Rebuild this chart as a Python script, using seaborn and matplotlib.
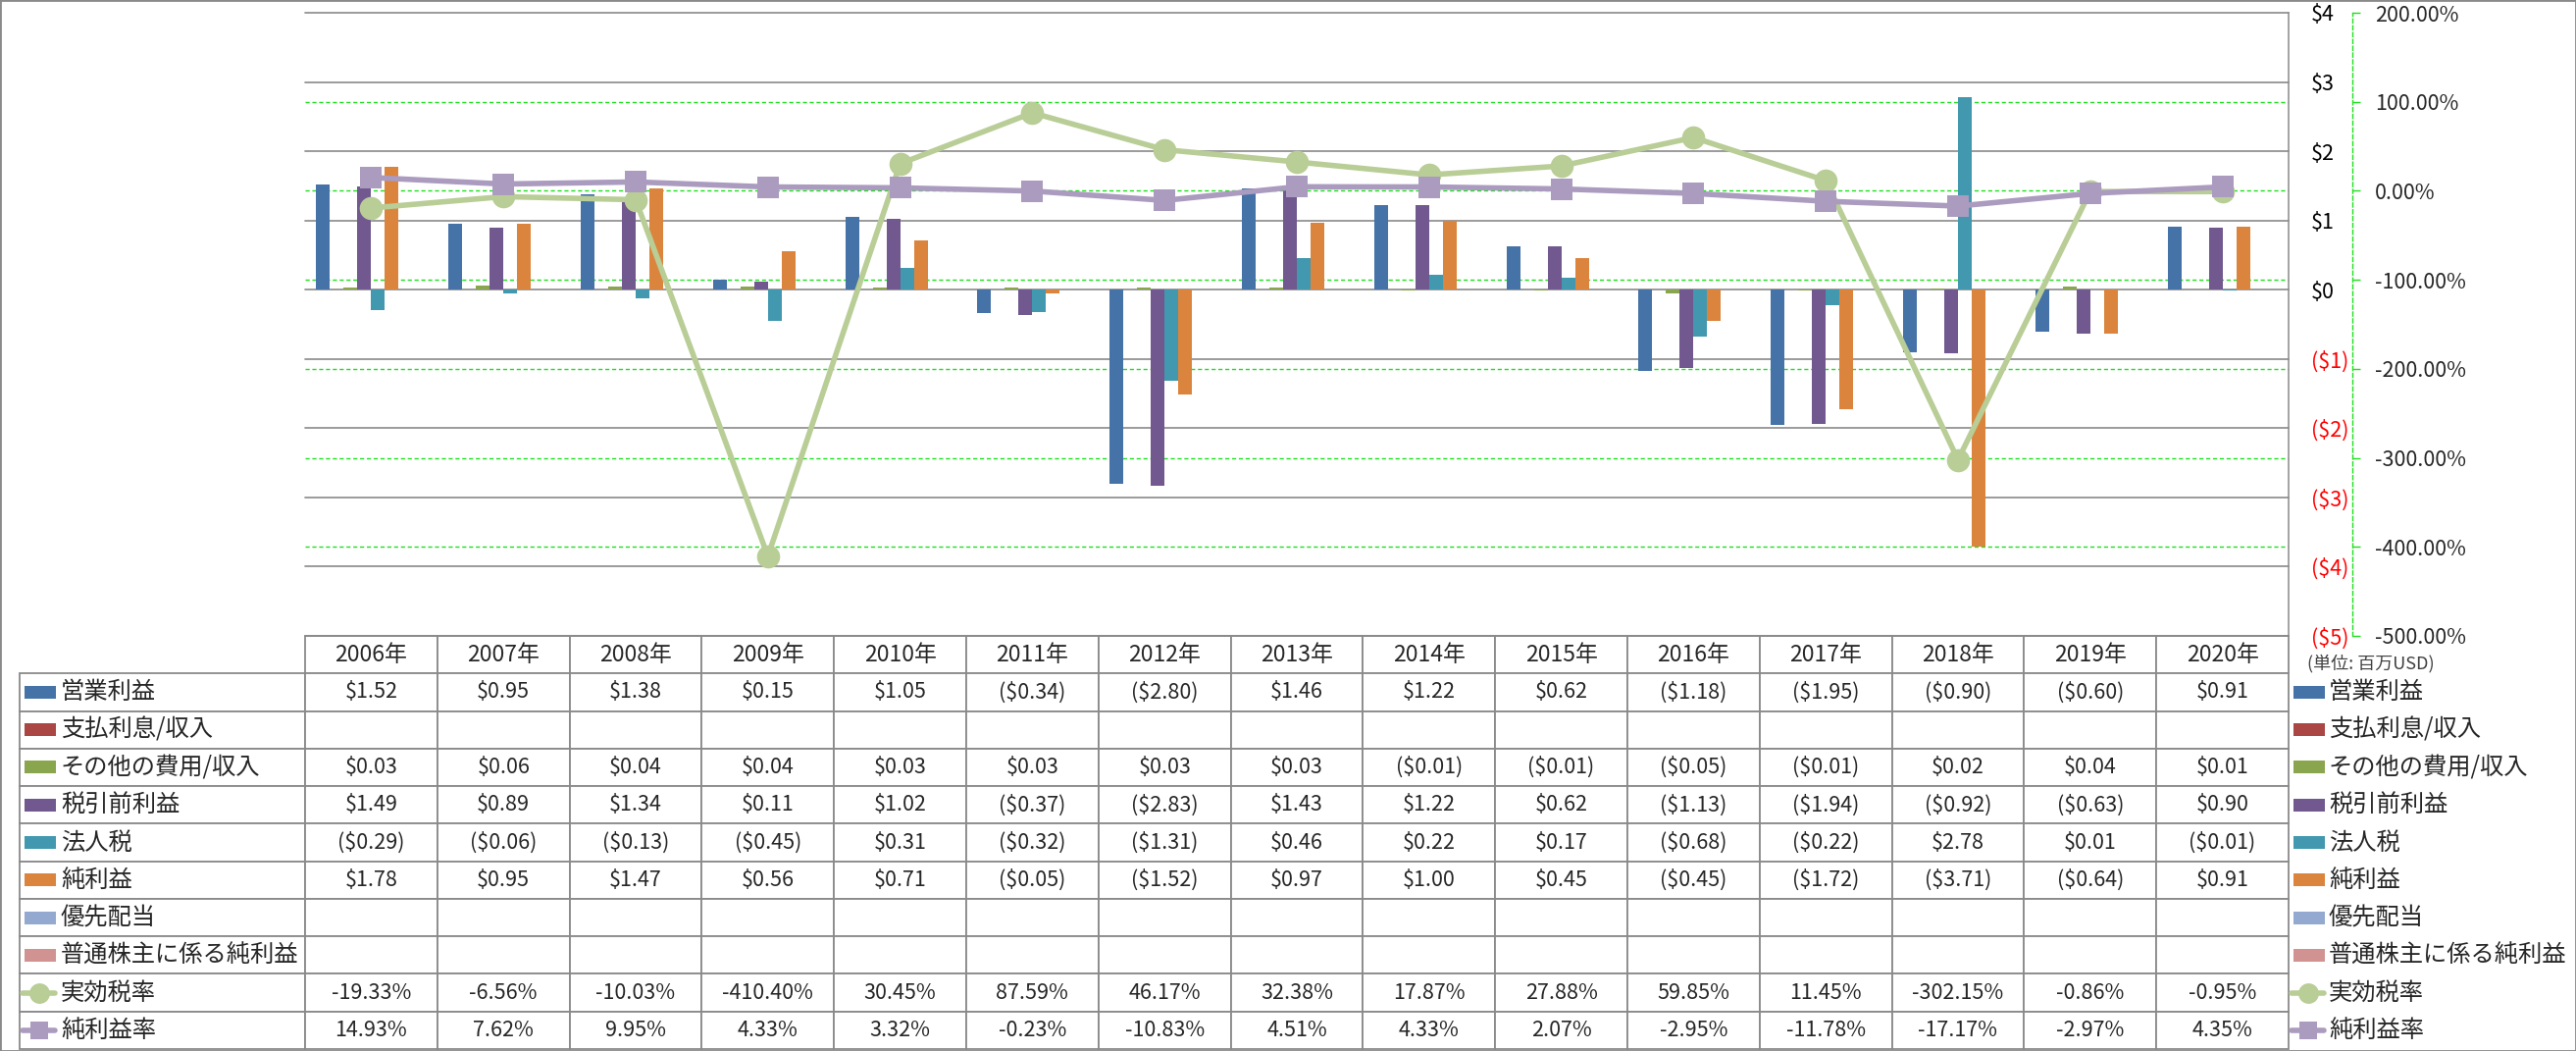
import numpy as np
import pandas as pd
import seaborn as sns
import matplotlib.pyplot as plt
from matplotlib.patches import Rectangle
from matplotlib.lines import Line2D
from matplotlib.table import Table

# ---- data (millions USD / percent) ----
years = ['2006年', '2007年', '2008年', '2009年', '2010年', '2011年', '2012年', '2013年',
         '2014年', '2015年', '2016年', '2017年', '2018年', '2019年', '2020年']
op_income = [1.52, 0.95, 1.38, 0.15, 1.05, -0.34, -2.80, 1.46, 1.22, 0.62, -1.18, -1.95, -0.90, -0.60, 0.91]
interest = [None] * 15
other_exp = [0.03, 0.06, 0.04, 0.04, 0.03, 0.03, 0.03, 0.03, -0.01, -0.01, -0.05, -0.01, 0.02, 0.04, 0.01]
pretax = [1.49, 0.89, 1.34, 0.11, 1.02, -0.37, -2.83, 1.43, 1.22, 0.62, -1.13, -1.94, -0.92, -0.63, 0.90]
income_tax = [-0.29, -0.06, -0.13, -0.45, 0.31, -0.32, -1.31, 0.46, 0.22, 0.17, -0.68, -0.22, 2.78, 0.01, -0.01]
net_income = [1.78, 0.95, 1.47, 0.56, 0.71, -0.05, -1.52, 0.97, 1.00, 0.45, -0.45, -1.72, -3.71, -0.64, 0.91]
pref_div = [None] * 15
common_net = [None] * 15
eff_tax_rate = [-19.33, -6.56, -10.03, -410.40, 30.45, 87.59, 46.17, 32.38, 17.87, 27.88, 59.85, 11.45, -302.15, -0.86, -0.95]
net_margin = [14.93, 7.62, 9.95, 4.33, 3.32, -0.23, -10.83, 4.51, 4.33, 2.07, -2.95, -11.78, -17.17, -2.97, 4.35]

bar_names = ['営業利益', '支払利息/収入', 'その他の費用/収入', '税引前利益', '法人税', '純利益', '優先配当', '普通株主に係る純利益']
bar_values = [op_income, interest, other_exp, pretax, income_tax, net_income, pref_div, common_net]
bar_colors = ['#4572A7', '#AA4643', '#89A54E', '#71588F', '#4198AF', '#DB843D', '#93A9CF', '#D19392']
line_names = ['実効税率', '純利益率']
line_values = [eff_tax_rate, net_margin]
line_colors = ['#B9CD96', '#AA9BBF']
line_markers = ['o', 's']

money_ticks = [4, 3, 2, 1, 0, -1, -2, -3, -4, -5]
pct_ticks = [200, 100, 0, -100, -200, -300, -400, -500]

W, H = 2626, 1071


def fx(px):
    return px / W


def fy(py):
    return 1 - py / H


def fmt_money(v):
    if v is None:
        return ''
    return f'${v:.2f}' if v >= 0 else f'(${-v:.2f})'


def fmt_tick(v):
    return f'${v}' if v >= 0 else f'(${-v})'


sns.set_style('white')
plt.rcParams['font.family'] = ['Noto Sans CJK JP', 'DejaVu Sans']

GRAY = '#8a8a8a'
LIME = '#1EE01E'
DASH = (0, (3, 2))

fig = plt.figure(figsize=(W / 100, H / 100), dpi=100)
fig.patch.set_facecolor('white')

pl, pr, pt, pb = 311, 2333, 13, 648
ax = fig.add_axes([fx(pl), fy(pb), fx(pr) - fx(pl), fy(pt) - fy(pb)])
ax2 = ax.twinx()
ax3 = ax.twinx()
ax2.set_zorder(0)
ax.set_zorder(1)
ax3.set_zorder(2)
ax.patch.set_visible(False)

# ---- bars ----
rows = [(y, name, v) for name, vals in zip(bar_names, bar_values) for y, v in zip(years, vals)]
df = pd.DataFrame(rows, columns=['year', 'item', 'value'])
df['value'] = pd.to_numeric(df['value'])
sns.barplot(data=df, x='year', y='value', hue='item', order=years, hue_order=bar_names,
            palette=dict(zip(bar_names, bar_colors)), width=0.83, saturation=1,
            errorbar=None, legend=False, linewidth=0, ax=ax)

ax.set_ylim(money_ticks[-1], money_ticks[0])
ax.set_xlabel('')
ax.set_ylabel('')
ax.set_xticks([])
ax.yaxis.tick_right()
ax.set_yticks(money_ticks)
ax.set_yticklabels([fmt_tick(v) for v in money_ticks])
for lbl, v in zip(ax.get_yticklabels(), money_ticks):
    lbl.set_color('#FF0000' if v < 0 else 'black')
ax.tick_params(axis='y', length=0, pad=16.6, labelsize=15.5)
ax.grid(False)
for v in money_ticks:
    ax.axhline(v, color=GRAY, lw=1.2, zorder=0.5, clip_on=False)
for s in ['left', 'top', 'bottom']:
    ax.spines[s].set_visible(False)
ax.spines['right'].set_color(GRAY)
ax.spines['right'].set_linewidth(1.1)

# ---- secondary axis (percent) ----
ax2.set_ylim(pct_ticks[-1], pct_ticks[0])
ax2.set_yticks(pct_ticks)
ax2.set_yticklabels([f'{v:.2f}%' for v in pct_ticks])
for lbl, v in zip(ax2.get_yticklabels(), pct_ticks):
    lbl.set_color('#FF0000' if v < 0 else 'black')
ax2.tick_params(axis='y', length=5.8, width=1, color=LIME, pad=10.8, labelsize=15.5)
ax2.grid(False)
for v in pct_ticks[1:-1]:
    ax2.axhline(v, color=LIME, lw=1.0, ls=DASH)
for s in ['left', 'top', 'bottom']:
    ax2.spines[s].set_visible(False)
ax2.spines['right'].set_position(('outward', 46.8))
ax2.spines['right'].set_color(LIME)
ax2.spines['right'].set_linestyle(DASH)
ax2.spines['right'].set_linewidth(1.0)

# ---- lines ----
idx = np.arange(len(years))
for name, vals, col, mk, ms in zip(line_names, line_values, line_colors, line_markers, [17, 16]):
    sns.lineplot(x=idx, y=vals, ax=ax3, color=col, lw=4, marker=mk, markersize=ms,
                 markeredgewidth=0, sort=False)
ax3.set_ylim(pct_ticks[-1], pct_ticks[0])
ax3.axis('off')
ax.set_xlim(-0.5, len(years) - 0.5)

# ---- data table ----
tl, tr, tt, tb = 20, 2333, 648, 1069
tax = fig.add_axes([fx(tl), fy(tb), fx(tr) - fx(tl), fy(tt) - fy(tb)])
tax.axis('off')
col_w = np.array([291] + [134.8] * len(years))
col_w = col_w / col_w.sum()
n_rows = len(bar_names) + len(line_names) + 1
row_h = 1 / n_rows
tab = Table(tax, bbox=[0, 0, 1, 1])
tab.auto_set_font_size(False)

for c in range(len(years) + 1):
    cell = tab.add_cell(0, c, width=col_w[c], height=row_h, text='' if c == 0 else years[c - 1],
                        loc='center', edgecolor=GRAY)
    if c == 0:
        cell.visible_edges = 'open'
    cell.get_text().set_fontsize(16.5)

table_rows = [[fmt_money(v) for v in vals] for vals in bar_values] + \
             [[f'{v:.2f}%' for v in vals] for vals in line_values]
row_names = bar_names + line_names
for r, (name, vals) in enumerate(zip(row_names, table_rows), start=1):
    cell = tab.add_cell(r, 0, width=col_w[0], height=row_h, text=name, loc='left', edgecolor=GRAY)
    cell.PAD = 42 / 291
    cell.get_text().set_fontsize(17.5)
    for c, txt in enumerate(vals, start=1):
        cell = tab.add_cell(r, c, width=col_w[c], height=row_h, text=txt, loc='center', edgecolor=GRAY)
        cell.get_text().set_fontsize(15.5)
for cell in tab.get_celld().values():
    cell.set_linewidth(1.3)
tax.add_table(tab)

# ---- legend keys (row headers + right legend) ----
row_px = (tb - tt) / n_rows
for x0 in [tl, pr]:
    for r, name in enumerate(row_names, start=1):
        yc = tt + row_px * (r + 0.5)
        if r <= len(bar_names):
            fig.add_artist(Rectangle((fx(x0 + 5), fy(yc + 6.5)), 32 / W, 13 / H,
                                     transform=fig.transFigure, color=bar_colors[r - 1], lw=0))
        else:
            k = r - len(bar_names) - 1
            fig.add_artist(Line2D([fx(x0 + 3), fx(x0 + 36)], [fy(yc), fy(yc)], transform=fig.transFigure,
                                  color=line_colors[k], lw=4))
            fig.add_artist(Line2D([fx(x0 + 19.5)], [fy(yc)], transform=fig.transFigure, ls='none',
                                  marker=line_markers[k], ms=[15, 13][k], mew=0, color=line_colors[k]))
        if x0 == pr:
            fig.text(fx(x0 + 41), fy(yc), name, ha='left', va='center', fontsize=17.5)

fig.text(fx(2352), fy(676), '(単位: 百万USD)', ha='left', va='center', fontsize=13, color='#404040')
fig.add_artist(Rectangle((0, 0), 1, 1, transform=fig.transFigure, fill=False, ec=GRAY, lw=2))

fig.savefig('out.png', dpi=100)
